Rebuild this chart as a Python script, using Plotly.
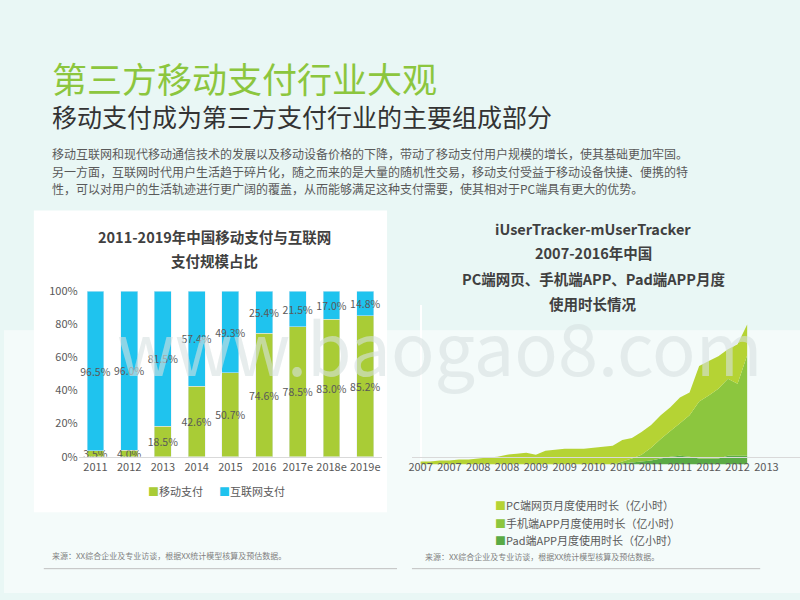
import plotly.graph_objects as go

# left chart data
years = ["2011", "2012", "2013", "2014", "2015", "2016", "2017e", "2018e", "2019e"]
mobile_share = [3.5, 4.0, 18.5, 42.6, 50.7, 74.6, 78.5, 83.0, 85.2]
internet_share = [96.5, 96.0, 81.5, 57.4, 49.3, 25.4, 21.5, 17.0, 14.8]

# right chart data (every 2 months from 2007-01)
months = list(range(0, 69, 2))
total_use = [3, 3, 4, 4, 5, 5, 6, 7, 8, 10, 11, 12, 10, 14, 15, 16, 16, 16, 17, 18,
             19, 25, 27, 33, 40, 50, 58, 68, 73, 100, 105, 110, 117, 122, 142]
mobile_use = [0] * 20 + [0, 3, 6, 10, 17, 26, 34, 42, 50, 64, 70, 77, 87, 82, 111]
pad_use = [0] * 20 + [0, 1, 2, 3, 4, 6, 8, 9, 8, 6, 6, 6, 9, 9, 9]
pc_use = [t - m for t, m in zip(total_use, mobile_use)]
mobile_only = [m - p for m, p in zip(mobile_use, pad_use)]
tick_pos = list(range(0, 79, 6))
tick_txt = ["2007", "2007", "2008", "2008", "2009", "2009", "2010", "2010",
            "2011", "2011", "2012", "2012", "2013", "201"]

FONT = "Noto Sans CJK SC"
fig = go.Figure()

for vals, name, col in [(mobile_share, "移动支付", "#a9cc36"), (internet_share, "互联网支付", "#1fc3ee")]:
    fig.add_bar(x=years, y=vals, name=name, marker_color=col,
                text=[f"{v}%" for v in vals], textposition="inside", textangle=0,
                insidetextanchor="middle", textfont=dict(color="#595959", size=10.5),
                xaxis="x", yaxis="y", width=0.5)

fig.add_scatter(x=months, y=pad_use, stackgroup="a", mode="none", fillcolor="#5aaa45",
                name="Pad端APP月度使用时长（亿小时）", xaxis="x2", yaxis="y2")
fig.add_scatter(x=months, y=mobile_only, stackgroup="a", mode="none", fillcolor="#8cc63e",
                name="手机端APP月度使用时长（亿小时）", xaxis="x2", yaxis="y2")
fig.add_scatter(x=months, y=pc_use, stackgroup="a", mode="none", fillcolor="#b5d334",
                name="PC端网页月度使用时长（亿小时）", xaxis="x2", yaxis="y2")

fig.update_layout(
    width=800, height=600, margin=dict(l=0, r=0, t=0, b=0),
    paper_bgcolor="#e9f7f5", plot_bgcolor="rgba(0,0,0,0)",
    font=dict(family=FONT, color="#595959"),
    barmode="stack", showlegend=False,
    uniformtext=dict(minsize=10, mode="show"),
    xaxis=dict(domain=[75/800, 380/800], tickfont=dict(size=11), showline=True,
               linecolor="#d9d9d9", fixedrange=True),
    yaxis=dict(domain=[140/600, 310/600], range=[0, 100], ticksuffix="%",
               dtick=20, tickfont=dict(size=11), showgrid=False, zeroline=False),
    xaxis2=dict(domain=[410/800, 1.0], range=[-1.8, 79], tickvals=tick_pos,
                ticktext=tick_txt, tickfont=dict(size=11, color="#595959"),
                showgrid=False, showline=True, linecolor="#d9d9d9", ticks=""),
    yaxis2=dict(domain=[132/600, 296/600], range=[0, 162], visible=False),
    shapes=[
        dict(type="rect", xref="paper", yref="paper", x0=0, x1=1, y0=0, y1=0.45,
             fillcolor="#f4fbfa", line_width=0, layer="below"),
        dict(type="rect", xref="paper", yref="paper", x0=30/800, x1=385/800,
             y0=1-517/600, y1=1-207/600, fillcolor="white", line_width=0, layer="below"),
        dict(type="line", xref="paper", yref="paper", x0=40/800, x1=395/800,
             y0=1-575/600, y1=1-575/600, line=dict(color="#bfbfbf", width=1)),
        dict(type="line", xref="paper", yref="paper", x0=410/800, x1=760/800,
             y0=1-575/600, y1=1-575/600, line=dict(color="#bfbfbf", width=1)),
    ],
)

ann = []
def txt(x, y, s, size, color="#404040", bold=False, anchor="left"):
    ann.append(dict(x=x/800, y=1-y/600, xref="paper", yref="paper", text=f"<b>{s}</b>" if bold else s,
                    showarrow=False, xanchor=anchor, yanchor="middle",
                    font=dict(size=size, color=color, family=FONT)))

txt(46, 70, "第三方移动支付行业大观", 35, "#8cc63e")
txt(46, 110, "移动支付成为第三方支付行业的主要组成部分", 25, "#333333")
txt(46, 148, "移动互联网和现代移动通信技术的发展以及移动设备价格的下降，带动了移动支付用户规模的增长，使其基础更加牢固。", 12, "#595959")
txt(46, 167, "另一方面，互联网时代用户生活趋于碎片化，随之而来的是大量的随机性交易，移动支付受益于移动设备快捷、便携的特", 12, "#595959")
txt(46, 184, "性，可以对用户的生活轨迹进行更广阔的覆盖，从而能够满足这种支付需要，使其相对于PC端具有更大的优势。", 12, "#595959")
txt(212, 234, "2011-2019年中国移动支付与互联网", 14.5, "#404040", True, "center")
txt(212, 258, "支付规模占比", 14.5, "#404040", True, "center")
txt(592, 226, "iUserTracker-mUserTracker", 14.5, "#404040", True, "center")
txt(592, 250, "2007-2016年中国", 14.5, "#404040", True, "center")
txt(592, 277, "PC端网页、手机端APP、Pad端APP月度", 14.5, "#404040", True, "center")
txt(592, 303, "使用时长情况", 14.5, "#404040", True, "center")
txt(143, 495, "<span style='color:#a9cc36'>■</span>移动支付", 11, "#595959")
txt(214, 495, "<span style='color:#1fc3ee'>■</span>互联网支付", 11, "#595959")
txt(491, 510, "<span style='color:#b5d334'>■</span>PC端网页月度使用时长（亿小时）", 11, "#595959")
txt(491, 528, "<span style='color:#8cc63e'>■</span>手机端APP月度使用时长（亿小时）", 11, "#595959")
txt(491, 546, "<span style='color:#5aaa45'>■</span>Pad端APP月度使用时长（亿小时）", 11, "#595959")
txt(46, 561, "来源：XX综合企业及专业访谈，根据XX统计模型核算及预估数据。", 8, "#7f7f7f")
txt(421, 563, "来源：XX综合企业及专业访谈，根据XX统计模型核算及预估数据。", 8, "#7f7f7f")
txt(112, 345, "www.baogao8.com", 72, "rgba(215,225,225,0.6)")
fig.update_layout(annotations=ann)

fig.write_html("out.html", config={"displayModeBar": False},
               post_script="document.body.style.margin='0';")
